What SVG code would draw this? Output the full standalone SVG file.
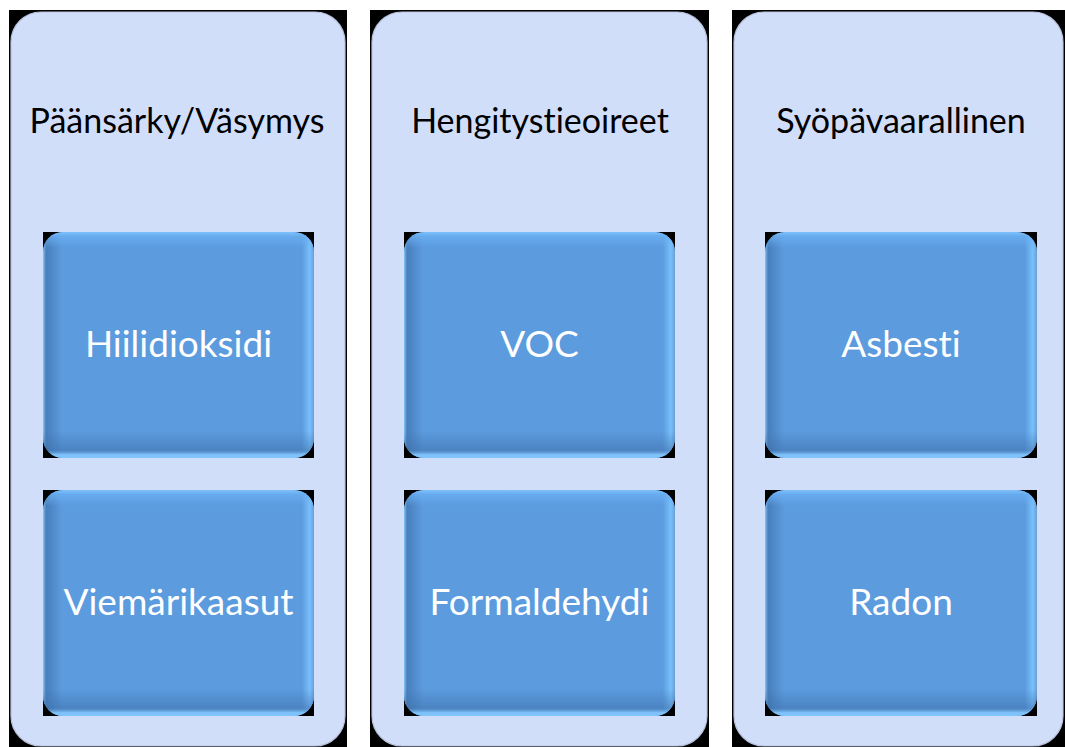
<svg xmlns="http://www.w3.org/2000/svg" width="1065" height="747" viewBox="0 0 1065 747">
  <style>
    .col { fill: #D1DEFA; stroke: #B9C2DA; stroke-width: 1.2; }
    .back { fill: #000000; }
    .box { fill: #5B9BDE; }
    .bevh { fill: url(#bevelH); }
    .bevv { fill: url(#bevelV); }
    .title { font-family: Lato, "Liberation Sans", sans-serif; font-size: 34px; fill: #000000; text-anchor: middle; font-variant-ligatures: none; }
    .label { font-family: Lato, "Liberation Sans", sans-serif; font-size: 37px; fill: #FFFFFF; text-anchor: middle; font-variant-ligatures: none; }
    .edge { stroke: #2A2AFF; stroke-width: 1; }
  </style>
  <defs>
    <!-- side bevel: light rim, dark band on the left, light band on the right -->
    <linearGradient id="bevelH" x1="0" y1="0" x2="1" y2="0">
      <stop offset="0" stop-color="#8ED0FF" stop-opacity="0.9"/>
      <stop offset="0.012" stop-color="#3C6CA6" stop-opacity="0.6"/>
      <stop offset="0.07" stop-color="#3C6CA6" stop-opacity="0"/>
      <stop offset="0.955" stop-color="#7CC4FF" stop-opacity="0"/>
      <stop offset="0.985" stop-color="#7CC4FF" stop-opacity="0.9"/>
      <stop offset="1" stop-color="#6A9ED6" stop-opacity="0.9"/>
    </linearGradient>
    <!-- top/bottom bevel: light top, dark band above a light bottom rim -->
    <linearGradient id="bevelV" x1="0" y1="0" x2="0" y2="1">
      <stop offset="0" stop-color="#84C6FF" stop-opacity="0.9"/>
      <stop offset="0.02" stop-color="#6CB2F6" stop-opacity="0.7"/>
      <stop offset="0.07" stop-color="#6CB2F6" stop-opacity="0"/>
      <stop offset="0.88" stop-color="#3C6CA6" stop-opacity="0"/>
      <stop offset="0.965" stop-color="#3C6CA6" stop-opacity="0.5"/>
      <stop offset="0.985" stop-color="#84C8FF" stop-opacity="0.85"/>
      <stop offset="1" stop-color="#84C8FF" stop-opacity="0.95"/>
    </linearGradient>
  </defs>

  <rect width="1065" height="747" fill="#FFFFFF"/>

  <!-- column 1 -->
  <g id="col-paansarky">
    <rect class="back" x="9" y="10" width="338" height="737"/>
    <rect class="col" x="11" y="12" width="334" height="734" rx="30"/>
    <text class="title" x="177" y="133">Päänsärky/Väsymys</text>
  </g>
  <!-- column 2 -->
  <g id="col-hengitys">
    <rect class="back" x="370" y="10" width="339" height="737"/>
    <rect class="col" x="372" y="12" width="335" height="734" rx="30"/>
    <text class="title" x="540" y="133">Hengitystieoireet</text>
  </g>
  <!-- column 3 -->
  <g id="col-syopa">
    <rect class="back" x="732" y="10" width="333" height="737"/>
    <rect class="col" x="734" y="12" width="329" height="734" rx="30"/>
    <text class="title" x="901" y="133">Syöpävaarallinen</text>
  </g>

  <!-- bevelled item boxes -->
  <g id="box-hiilidioksidi">
    <rect class="back" x="43" y="232" width="271" height="226"/>
    <line class="edge" x1="66" y1="232.5" x2="100" y2="232.5"/>
    <line class="edge" x1="245" y1="232.5" x2="291" y2="232.5"/>
    <rect class="box" x="43" y="232" width="271" height="226" rx="20"/>
    <rect class="bevh" x="43" y="232" width="271" height="226" rx="20"/>
    <rect class="bevv" x="43" y="232" width="271" height="226" rx="20"/>
    <text class="label" x="178.5" y="357">Hiilidioksidi</text>
  </g>
  <g id="box-viemarikaasut">
    <rect class="back" x="43" y="490" width="271" height="226"/>
    <line class="edge" x1="66" y1="490.5" x2="100" y2="490.5"/>
    <line class="edge" x1="245" y1="490.5" x2="291" y2="490.5"/>
    <rect class="box" x="43" y="490" width="271" height="226" rx="20"/>
    <rect class="bevh" x="43" y="490" width="271" height="226" rx="20"/>
    <rect class="bevv" x="43" y="490" width="271" height="226" rx="20"/>
    <text class="label" x="178.5" y="615">Viemärikaasut</text>
  </g>
  <g id="box-voc">
    <rect class="back" x="404" y="232" width="271" height="226"/>
    <line class="edge" x1="427" y1="232.5" x2="461" y2="232.5"/>
    <line class="edge" x1="606" y1="232.5" x2="652" y2="232.5"/>
    <rect class="box" x="404" y="232" width="271" height="226" rx="20"/>
    <rect class="bevh" x="404" y="232" width="271" height="226" rx="20"/>
    <rect class="bevv" x="404" y="232" width="271" height="226" rx="20"/>
    <text class="label" x="539.5" y="357">VOC</text>
  </g>
  <g id="box-formaldehydi">
    <rect class="back" x="404" y="490" width="271" height="226"/>
    <line class="edge" x1="427" y1="490.5" x2="461" y2="490.5"/>
    <line class="edge" x1="606" y1="490.5" x2="652" y2="490.5"/>
    <rect class="box" x="404" y="490" width="271" height="226" rx="20"/>
    <rect class="bevh" x="404" y="490" width="271" height="226" rx="20"/>
    <rect class="bevv" x="404" y="490" width="271" height="226" rx="20"/>
    <text class="label" x="539.5" y="615">Formaldehydi</text>
  </g>
  <g id="box-asbesti">
    <rect class="back" x="765" y="232" width="272" height="226"/>
    <line class="edge" x1="788" y1="232.5" x2="822" y2="232.5"/>
    <line class="edge" x1="967" y1="232.5" x2="1013" y2="232.5"/>
    <rect class="box" x="765" y="232" width="272" height="226" rx="20"/>
    <rect class="bevh" x="765" y="232" width="272" height="226" rx="20"/>
    <rect class="bevv" x="765" y="232" width="272" height="226" rx="20"/>
    <text class="label" x="901" y="357">Asbesti</text>
  </g>
  <g id="box-radon">
    <rect class="back" x="765" y="490" width="272" height="226"/>
    <line class="edge" x1="788" y1="490.5" x2="822" y2="490.5"/>
    <line class="edge" x1="967" y1="490.5" x2="1013" y2="490.5"/>
    <rect class="box" x="765" y="490" width="272" height="226" rx="20"/>
    <rect class="bevh" x="765" y="490" width="272" height="226" rx="20"/>
    <rect class="bevv" x="765" y="490" width="272" height="226" rx="20"/>
    <text class="label" x="901" y="615">Radon</text>
  </g>

  <!-- no connectors in this layout -->
  <g id="connectors"/>
</svg>
